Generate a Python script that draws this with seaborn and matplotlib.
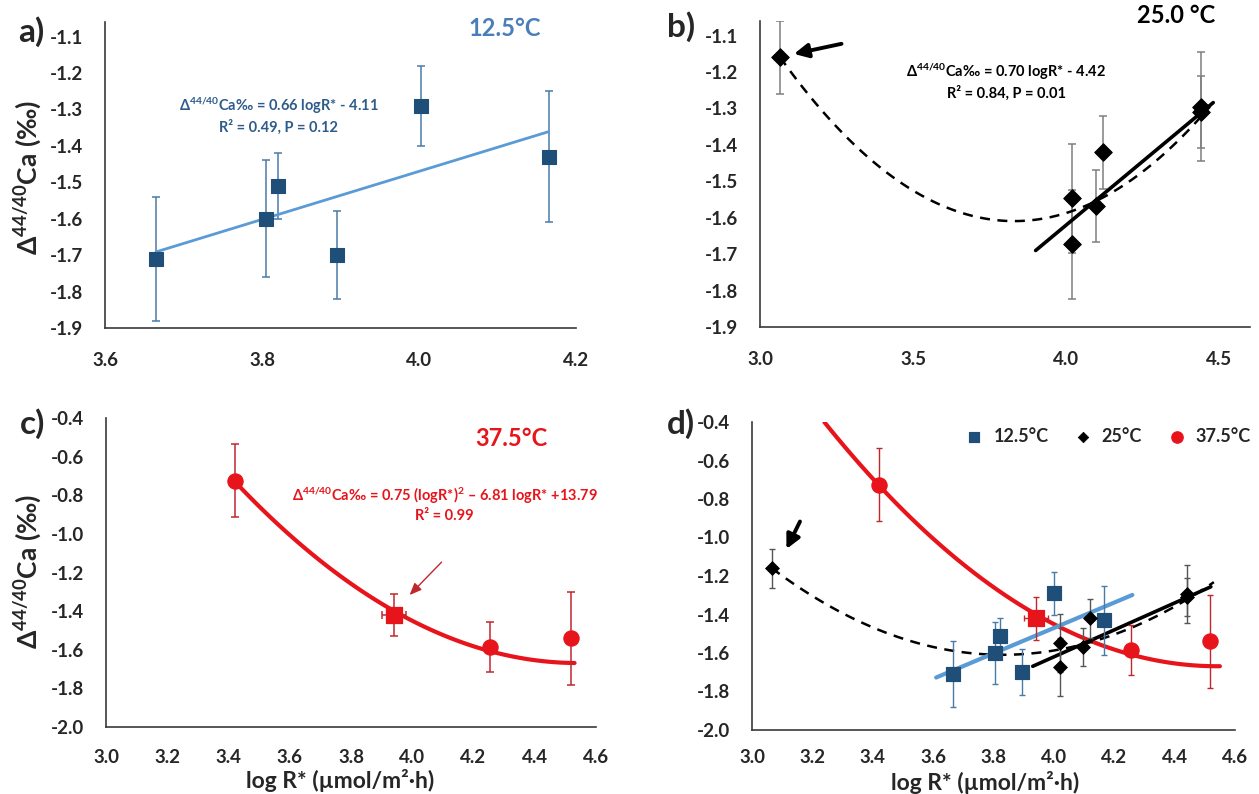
import numpy as np
import pandas as pd
import matplotlib
matplotlib.use("Agg")
import matplotlib.pyplot as plt
import seaborn as sns
from matplotlib.ticker import MultipleLocator, FormatStrFormatter

# ---------------- data ----------------
x125 = [3.665, 3.805, 3.820, 3.895, 4.002, 4.165]
y125 = [-1.71, -1.60, -1.51, -1.70, -1.29, -1.43]
e125 = [0.17, 0.16, 0.09, 0.12, 0.11, 0.18]

x25 = [3.065, 4.020, 4.020, 4.098, 4.121, 4.440, 4.440]
y25 = [-1.16, -1.547, -1.673, -1.568, -1.42, -1.295, -1.31]
e25 = [0.10, 0.15, 0.15, 0.10, 0.10, 0.15, 0.10]

x375 = [3.42, 4.254, 4.518]
y375 = [-0.725, -1.585, -1.54]
e375 = [0.19, 0.13, 0.24]
# highlighted 37.5 °C sample (square marker)
x375s = [3.94]
y375s = [-1.42]
e375s = [0.11]
xe375s = [0.04]

# fit coefficients (highest power first)
fit125 = [0.66, -4.11]
fit25 = [0.70, -4.42]
fit25_quad = [0.77, -5.898, 9.685]
fit375 = [0.75, -6.81, 13.79]

# ranges covered by each fit line
rng125_a, rng125_d = [3.665, 4.165], [3.61, 4.26]
rng25_a, rng25_d = [3.90, 4.48], [3.93, 4.52]
rngq_a, rngq_d = [3.065, 4.44], [3.065, 4.53]
rng375_c, rng375_d = [3.42, 4.53], [3.24, 4.55]

labels = ["12.5°C", "25°C", "37.5°C"]

# ---------------- style ----------------
sns.set_theme(style="white")
plt.rcParams["font.family"] = ["Lato", "DejaVu Sans"]
plt.rcParams["font.weight"] = "bold"
plt.rcParams["axes.unicode_minus"] = False
plt.rcParams["mathtext.fontset"] = "custom"
plt.rcParams["mathtext.rm"] = "Lato:bold"
plt.rcParams["mathtext.bf"] = "Lato:bold"
plt.rcParams["mathtext.default"] = "bf"

BLUE_M = "#1F4E79"
BLUE_L = "#5B9BD5"
BLUE_E = "#4A7BA6"
BLUE_T = "#4A7EBB"
RED = "#E8141B"
RED_E = "#C0272D"
AX = "#3A3A3A"

W, H = 1259, 794
fig = plt.figure(figsize=(W / 100, H / 100), dpi=100)


def add_ax(l, r, t, b):
    return fig.add_axes([l / W, 1 - b / H, (r - l) / W, (b - t) / H])


def style(ax, xlim, ylim, xmaj, xmin, ymaj, ymin, xpad=17):
    ax.set_xlim(*xlim)
    ax.set_ylim(*ylim)
    ax.xaxis.set_major_locator(MultipleLocator(xmaj))
    ax.xaxis.set_minor_locator(MultipleLocator(xmin))
    ax.yaxis.set_major_locator(MultipleLocator(ymaj))
    ax.yaxis.set_minor_locator(MultipleLocator(ymin))
    ax.xaxis.set_major_formatter(FormatStrFormatter("%.1f"))
    ax.yaxis.set_major_formatter(FormatStrFormatter("%.1f"))
    for s in ["top", "right"]:
        ax.spines[s].set_visible(False)
    for s in ["left", "bottom"]:
        ax.spines[s].set_color(AX)
        ax.spines[s].set_linewidth(1.2)
    ax.tick_params(which="both", direction="in", length=5, width=1, color=AX)
    ax.tick_params(axis="x", which="major", pad=xpad, labelsize=13.5)
    ax.tick_params(axis="y", which="major", pad=16, labelsize=13.5)
    ax.set_xlabel("")
    ax.set_ylabel("")


def fitline(ax, coef, rng, **kw):
    xs = np.linspace(rng[0], rng[1], 100)
    d = pd.DataFrame({"x": xs, "y": np.polyval(coef, xs)})
    sns.lineplot(data=d, x="x", y="y", ax=ax, **kw)


ylab = "Δ$^{44/40}$Ca (‰)"
xlab = "log R* (µmol/m²·h)"

# ---------------- panel a ----------------
ax = add_ax(105, 576, 22, 328)
ax.errorbar(x125, y125, yerr=e125, fmt="none", ecolor=BLUE_E, elinewidth=1.1, capsize=3, capthick=1.1)
fitline(ax, fit125, rng125_a, color=BLUE_L, linewidth=2)
sns.scatterplot(x=x125, y=y125, ax=ax, marker="s", s=95, color=BLUE_M, edgecolor=BLUE_M, zorder=5)
style(ax, (3.6, 4.2), (-1.9, -1.06), 0.2, 0.04, 0.1, 0.02)
ax.text(4.109, -1.077, "12.5°C", color=BLUE_T, fontsize=17, ha="center", va="center")
ax.text(3.821, -1.289, "Δ$^{44/40}$Ca‰ = 0.66 logR* - 4.11", color="#2E5C8A", fontsize=10.5, ha="center", va="center")
ax.text(3.821, -1.348, "R² = 0.49, P = 0.12", color="#2E5C8A", fontsize=10.5, ha="center", va="center")
fig.text(28 / W, 1 - 178 / H, ylab, rotation=90, fontsize=19, ha="center", va="center")
fig.text(31 / W, 1 - 32 / H, "a)", fontsize=24, ha="center", va="center")

# ---------------- panel b ----------------
ax = add_ax(760, 1250, 21, 327)
ax.errorbar(x25, y25, yerr=e25, fmt="none", ecolor="#7F7F7F", elinewidth=1.1, capsize=3, capthick=1.1)
fitline(ax, fit25_quad, rngq_a, color="black", linewidth=1.8, linestyle=(0, (4, 3)))
fitline(ax, fit25, rng25_a, color="black", linewidth=2.6)
sns.scatterplot(x=x25, y=y25, ax=ax, marker="D", s=80, color="black", edgecolor="black", zorder=5)
style(ax, (3.0, 4.6), (-1.9, -1.06), 0.5, 0.1, 0.1, 0.02)
ax.text(4.36, -1.045, "25.0 °C", color="black", fontsize=17, ha="center", va="center", clip_on=False)
ax.text(3.804, -1.2005, "Δ$^{44/40}$Ca‰ = 0.70 logR* - 4.42", color="black", fontsize=10.5, ha="center", va="center")
ax.text(3.804, -1.257, "R² = 0.84, P = 0.01", color="black", fontsize=10.5, ha="center", va="center")
ax.annotate("", xy=(3.102, -1.152), xytext=(3.275, -1.121),
            arrowprops=dict(arrowstyle="-|>,head_length=0.7,head_width=0.35", color="black", lw=2.8))
fig.text(681 / W, 1 - 27 / H, "b)", fontsize=24, ha="center", va="center")

# ---------------- panel c ----------------
ax = add_ax(106, 596, 418, 727)
fitline(ax, fit375, rng375_c, color=RED, linewidth=3)
ax.errorbar(x375, y375, yerr=e375, fmt="none", ecolor=RED_E, elinewidth=1.1, capsize=3, capthick=1.1)
ax.errorbar(x375s, y375s, yerr=e375s, xerr=xe375s, fmt="none", ecolor=RED_E, elinewidth=1.1, capsize=3, capthick=1.1)
sns.scatterplot(x=x375, y=y375, ax=ax, marker="o", s=120, color=RED, edgecolor=RED, zorder=5)
sns.scatterplot(x=x375s, y=y375s, ax=ax, marker="s", s=130, color=RED, edgecolor=RED, zorder=5)
style(ax, (3.0, 4.6), (-2.0, -0.4), 0.2, 0.04, 0.2, 0.04, xpad=16)
ax.text(4.323, -0.508, "37.5°C", color=RED, fontsize=17, ha="center", va="center")
ax.text(4.106, -0.803, "Δ$^{44/40}$Ca‰ = 0.75 (logR*)$^{2}$ – 6.81 logR* +13.79", color=RED, fontsize=10.5,
        ha="center", va="center", clip_on=False)
ax.text(4.106, -0.907, "R² = 0.99", color=RED, fontsize=10.5, ha="center", va="center")
ax.annotate("", xy=(3.985, -1.327), xytext=(4.102, -1.136),
            arrowprops=dict(arrowstyle="-|>,head_length=0.6,head_width=0.25", color=RED_E, lw=1))
fig.text(28 / W, 1 - 572 / H, ylab, rotation=90, fontsize=19, ha="center", va="center")
fig.text(340 / W, 1 - 780 / H, xlab, fontsize=16.5, ha="center", va="center")
fig.text(33 / W, 1 - 424 / H, "c)", fontsize=24, ha="center", va="center")

# ---------------- panel d ----------------
ax = add_ax(752, 1235, 422, 730)
fitline(ax, fit375, rng375_d, color=RED, linewidth=3)
fitline(ax, fit25_quad, rngq_d, color="black", linewidth=1.8, linestyle=(0, (4, 3)))
fitline(ax, fit125, rng125_d, color=BLUE_L, linewidth=3)
fitline(ax, fit25, rng25_d, color="black", linewidth=2.6)
ax.errorbar(x125, y125, yerr=e125, fmt="none", ecolor=BLUE_E, elinewidth=1, capsize=2.5)
ax.errorbar(x25, y25, yerr=e25, fmt="none", ecolor="#555555", elinewidth=1, capsize=2.5)
ax.errorbar(x375, y375, yerr=e375, fmt="none", ecolor=RED_E, elinewidth=1, capsize=2.5)
ax.errorbar(x375s, y375s, yerr=e375s, xerr=xe375s, fmt="none", ecolor=RED_E, elinewidth=1, capsize=2.5)
sns.scatterplot(x=x125, y=y125, ax=ax, marker="s", s=110, color=BLUE_M, edgecolor=BLUE_M, zorder=5, label=labels[0])
sns.scatterplot(x=x25, y=y25, ax=ax, marker="D", s=50, color="black", edgecolor="black", zorder=5, label=labels[1])
sns.scatterplot(x=x375, y=y375, ax=ax, marker="o", s=120, color=RED, edgecolor=RED, zorder=5, label=labels[2])
sns.scatterplot(x=x375s, y=y375s, ax=ax, marker="s", s=120, color=RED, edgecolor=RED, zorder=5)
style(ax, (3.0, 4.6), (-2.0, -0.4), 0.2, 0.04, 0.2, 0.04, xpad=14)
ax.legend(loc="upper right", bbox_to_anchor=(1.055, 1.015), ncol=3, frameon=False, fontsize=13,
          handletextpad=0.05, columnspacing=0.9, markerscale=0.75, borderaxespad=0.2)
ax.annotate("", xy=(3.11, -1.073), xytext=(3.163, -0.904),
            arrowprops=dict(arrowstyle="-|>,head_length=0.7,head_width=0.35", color="black", lw=2.8))
fig.text(985 / W, 1 - 782 / H, xlab, fontsize=16.5, ha="center", va="center")
fig.text(681 / W, 1 - 424 / H, "d)", fontsize=24, ha="center", va="center")

fig.savefig("out.png", dpi=100, facecolor="white")
